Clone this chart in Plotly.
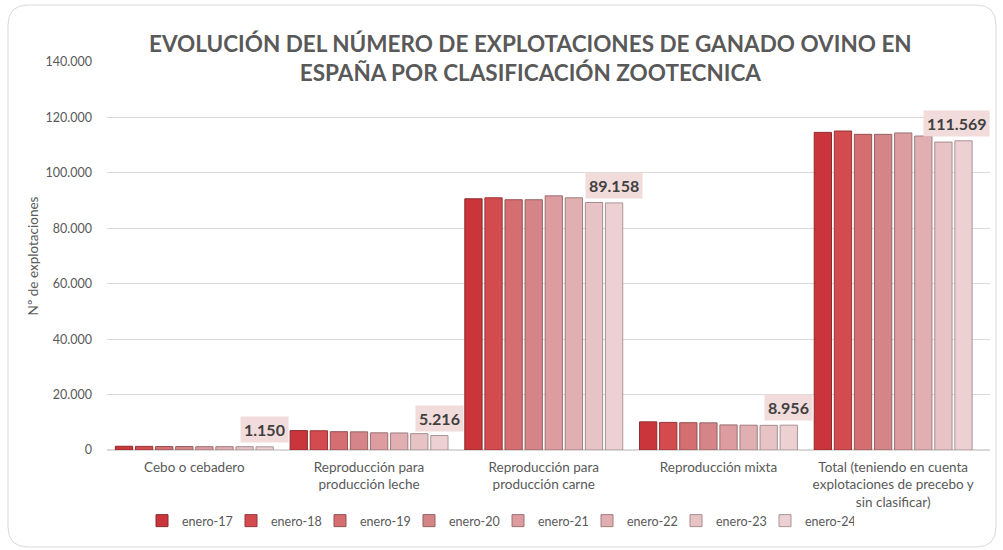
import plotly.graph_objects as go

# categories (x axis)
categorias = [
    "Cebo o cebadero",
    "Reproducción para<br>producción leche",
    "Reproducción para<br>producción carne",
    "Reproducción mixta",
    "Total (teniendo en cuenta<br>explotaciones de precebo y<br>sin clasificar)",
]

# one series per year (enero)
series = ["enero-17", "enero-18", "enero-19", "enero-20",
          "enero-21", "enero-22", "enero-23", "enero-24"]

enero_17 = [1350, 7000, 90650, 10150, 114600]
enero_18 = [1300, 6950, 91000, 9950, 115100]
enero_19 = [1250, 6600, 90300, 9850, 113900]
enero_20 = [1250, 6550, 90300, 9800, 113900]
enero_21 = [1200, 6200, 91700, 9050, 114400]
enero_22 = [1200, 6150, 91000, 8950, 113300]
enero_23 = [1180, 5900, 89300, 8900, 111100]
enero_24 = [1150, 5216, 89158, 8956, 111569]

valores = [enero_17, enero_18, enero_19, enero_20,
           enero_21, enero_22, enero_23, enero_24]

colores = ["#C9353A", "#D34B4E", "#D46E70", "#D58587",
           "#DD9C9F", "#E1AFB1", "#E8C3C5", "#ECD0D2"]
bordes = ["#8E2A2D", "#973437", "#955052", "#966163",
          "#9C7072", "#9F7D7F", "#A58C8E", "#A99597"]

W, H = 1003, 550
ML, MR, MT, MB = 107, 13, 62, 100
PW, PH = W - ML - MR, H - MT - MB


def px(x):
    return (x - ML) / PW


def py(y):
    return (H - MB - y) / PH


fig = go.Figure()

for nombre, vals, col, brd in zip(series, valores, colores, bordes):
    fig.add_trace(go.Bar(
        name=nombre,
        x=categorias,
        y=vals,
        marker=dict(color=col, line=dict(color=brd, width=1)),
        hoverinfo="x+y+name",
    ))

# data labels on last series only
bargap = 0.08
slot = (1 - bargap) / len(series)
offset = -(1 - bargap) / 2 + (len(series) - 0.5) * slot
for i, v in enumerate(enero_24):
    fig.add_annotation(
        x=i + offset, y=v, xref="x", yref="y",
        text="<b>" + f"{v:,}".replace(",", ".") + "</b>",
        showarrow=False, yanchor="bottom", yshift=4,
        xshift=-7 if i == len(enero_24) - 1 else 0,
        font=dict(family="Lato, Open Sans, sans-serif", size=16, color="#404040"),
        bgcolor="#F2DCDB", borderpad=3,
    )

# rounded chart border
x0, x1, y0, y1, r = px(8), px(996), py(547), py(5), 20
rx, ry = r / PW, r / PH
path = (f"M {x0 + rx} {y1} L {x1 - rx} {y1} Q {x1} {y1} {x1} {y1 - ry} "
        f"L {x1} {y0 + ry} Q {x1} {y0} {x1 - rx} {y0} "
        f"L {x0 + rx} {y0} Q {x0} {y0} {x0} {y0 + ry} "
        f"L {x0} {y1 - ry} Q {x0} {y1} {x0 + rx} {y1} Z")
fig.add_shape(type="path", path=path, xref="paper", yref="paper",
              line=dict(color="#D9D9D9", width=1), layer="below")

fig.add_annotation(
    x=px(530), y=py(58), xref="paper", yref="paper",
    text="<b>EVOLUCIÓN DEL NÚMERO DE EXPLOTACIONES DE GANADO OVINO EN<br>"
         "ESPAÑA POR CLASIFICACIÓN ZOOTECNICA</b>",
    showarrow=False, xanchor="center", yanchor="middle",
    font=dict(family="Lato, Open Sans, sans-serif", size=22.5, color="#595959"),
)

fig.update_layout(
    width=W, height=H,
    margin=dict(l=ML, r=MR, t=MT, b=MB, autoexpand=False),
    paper_bgcolor="white", plot_bgcolor="white",
    barmode="group", bargap=bargap, bargroupgap=0.14,
    font=dict(family="Lato, Open Sans, sans-serif", size=12, color="#595959"),
    showlegend=True,
    legend=dict(orientation="h", x=px(498), xanchor="center",
                y=py(521), yanchor="middle",
                font=dict(size=12.5, color="#595959"),
                itemwidth=30, entrywidth=44, entrywidthmode="pixels",
                tracegroupgap=0),
    yaxis=dict(
        range=[0, 140000], dtick=20000,
        tickformat=",d", separatethousands=True,
        showgrid=True, gridcolor="#D9D9D9", gridwidth=1,
        zeroline=True, zerolinecolor="#D9D9D9",
        ticks="", ticklabelstandoff=14,
        tickfont=dict(size=12.5, color="#595959"),
        title=dict(text="Nº de explotaciones", font=dict(size=13.5, color="#595959"),
                   standoff=3),
    ),
    xaxis=dict(
        showgrid=False, showline=False, ticks="", ticklabelstandoff=7,
        tickfont=dict(size=13.5, color="#595959"),
    ),
    separators=",.",
)

fig.write_html("out.html", config={"displayModeBar": False},
               post_script="document.body.style.margin='0';")
